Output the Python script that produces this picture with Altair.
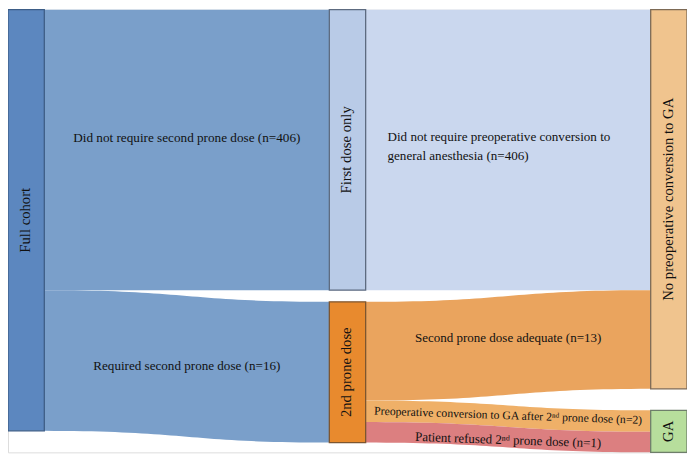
import altair as alt
import pandas as pd
import numpy as np

# ---------------- data ----------------
node_names = ["Full cohort", "First dose only", "2nd prone dose",
              "No preoperative conversion to GA", "GA"]
node_column = [0, 1, 1, 2, 2]
node_fill = ["#5c87bf", "#b9cbe7", "#e88a2e", "#f0c48e", "#b7de9c"]
node_stroke = ["#3d5d87", "#5d6b80", "#7d5630", "#7d6a55", "#6e7e6a"]

flow_source = ["Full cohort", "Full cohort", "First dose only",
               "2nd prone dose", "2nd prone dose", "2nd prone dose"]
flow_target = ["First dose only", "2nd prone dose",
               "No preoperative conversion to GA", "No preoperative conversion to GA",
               "GA", "GA"]
flow_n = [406, 16, 406, 13, 2, 1]
# drawn band thickness of each flow (the figure is not to scale)
flow_band = [287, 144, 287, 101, 22, 21]
flow_label = [
    "Did not require second prone dose (n=406)",
    "Required second prone dose (n=16)",
    "Did not require preoperative conversion to\ngeneral anesthesia (n=406)",
    "Second prone dose adequate (n=13)",
    "Preoperative conversion to GA after 2\u207f\u1d48 prone dose (n=2)",
    "Patient refused 2\u207f\u1d48 prone dose (n=1)",
]
flow_color = ["#7a9fca", "#7a9fca", "#cad7ee", "#eaa45e", "#efb068", "#dc7f80"]

# ---------------- style / layout ----------------
flow_label_size = [13.3, 13.2, 13.2, 13.1, 11.8, 13.0]
flow_label_angle = [0, 0, 0, 0, 2, 2]
flow_label_align = ["center", "center", "left", "center", "center", "center"]
flow_label_nudge = [-12, 0, -13, -7, -1, 3]
column_gap = {0: 0, 1: 12, 2: 22}
node_w = 0.113
FONT = "Liberation Serif"

in_sum = {n: 0 for n in node_names}
out_sum = {n: 0 for n in node_names}
for s, t, b in zip(flow_source, flow_target, flow_band):
    out_sum[s] += b
    in_sum[t] += b
node_y0, node_y1 = {}, {}
col_cursor = {}
for n, c in zip(node_names, node_column):
    size = max(in_sum[n], out_sum[n])
    start = col_cursor.get(c, None)
    y0 = 0 if start is None else start + column_gap[c]
    node_y0[n], node_y1[n] = y0, y0 + size
    col_cursor[c] = y0 + size

nodes = pd.DataFrame({
    "name": node_names,
    "x0": node_column,
    "x1": [c + node_w for c in node_column],
    "y0": [node_y0[n] for n in node_names],
    "y1": [node_y1[n] for n in node_names],
    "fill": node_fill,
    "stroke": node_stroke,
})
nodes["xc"] = (nodes["x0"] + nodes["x1"]) / 2
nodes["yc"] = (nodes["y0"] + nodes["y1"]) / 2

out_cursor = dict(node_y0)
in_cursor = dict(node_y0)
rows, labels = [], []
ts = np.linspace(0, 1, 41)
col_of = dict(zip(node_names, node_column))
for i, (s, t, b) in enumerate(zip(flow_source, flow_target, flow_band)):
    sy0 = out_cursor[s]; out_cursor[s] += b
    ty0 = in_cursor[t]; in_cursor[t] += b
    xa = col_of[s] + node_w
    xb = col_of[t]
    for tt in ts:
        fx = 1.5 * tt - 1.5 * tt ** 2 + tt ** 3
        fy = 3 * tt ** 2 - 2 * tt ** 3
        rows.append({
            "flow": f"f{i}",
            "fill": flow_color[i],
            "x": xa + (xb - xa) * fx,
            "ytop": sy0 + (ty0 - sy0) * fy,
            "ybot": sy0 + b + (ty0 - sy0) * fy,
        })
    ymid = (sy0 + ty0) / 2 + b / 2 + flow_label_nudge[i]
    labels.append({
        "text": flow_label[i],
        "x": (xa + xb) / 2 if flow_label_align[i] == "center" else xa,
        "y": ymid,
        "fs": flow_label_size[i],
        "ang": flow_label_angle[i],
        "align": flow_label_align[i],
    })
links = pd.DataFrame(rows)
lab = pd.DataFrame(labels)

ymax = max(node_y1.values())
xs = alt.Scale(domain=[0, 2 + node_w], nice=False, zero=False)
ys = alt.Scale(domain=[0, ymax], reverse=True, nice=False, zero=False)

flow_area = alt.Chart(links).mark_area(interpolate="linear", opacity=1).encode(
    x=alt.X("x:Q", scale=xs, axis=None),
    y=alt.Y("ytop:Q", scale=ys, axis=None),
    y2="ybot:Q",
    fill=alt.Fill("fill:N", scale=None),
    detail="flow:N",
)

node_rect = alt.Chart(nodes).mark_rect(strokeWidth=1.3).encode(
    x=alt.X("x0:Q", scale=xs, axis=None),
    x2="x1:Q",
    y=alt.Y("y0:Q", scale=ys, axis=None),
    y2="y1:Q",
    fill=alt.Fill("fill:N", scale=None),
    stroke=alt.Stroke("stroke:N", scale=None),
)

node_text = alt.Chart(nodes).mark_text(
    angle=270, font=FONT, fontSize=14.8, color="#111111",
    align="center", baseline="middle",
).encode(
    x=alt.X("xc:Q", scale=xs, axis=None),
    y=alt.Y("yc:Q", scale=ys, axis=None),
    text="name:N",
)

flow_text_c = alt.Chart(lab[lab["align"] == "center"]).mark_text(
    font=FONT, color="#111111", align="center", baseline="middle",
).encode(
    x=alt.X("x:Q", scale=xs, axis=None),
    y=alt.Y("y:Q", scale=ys, axis=None),
    text="text:N",
    size=alt.Size("fs:Q", scale=None),
    angle=alt.Angle("ang:Q", scale=None),
)

flow_text_l = alt.Chart(lab[lab["align"] == "left"]).mark_text(
    font=FONT, color="#111111", align="left", baseline="middle",
    dx=22, lineBreak="\n", lineHeight=19, fontSize=13.2,
).encode(
    x=alt.X("x:Q", scale=xs, axis=None),
    y=alt.Y("y:Q", scale=ys, axis=None),
    text="text:N",
)

chart = alt.layer(flow_area, node_rect, node_text, flow_text_c, flow_text_l).properties(
    width=684, height=446, padding=0, autosize="none",
).configure_view(stroke=None).configure(background="white", font=FONT)

chart.save("out.html", embed_options={"renderer": "svg", "actions": False})
